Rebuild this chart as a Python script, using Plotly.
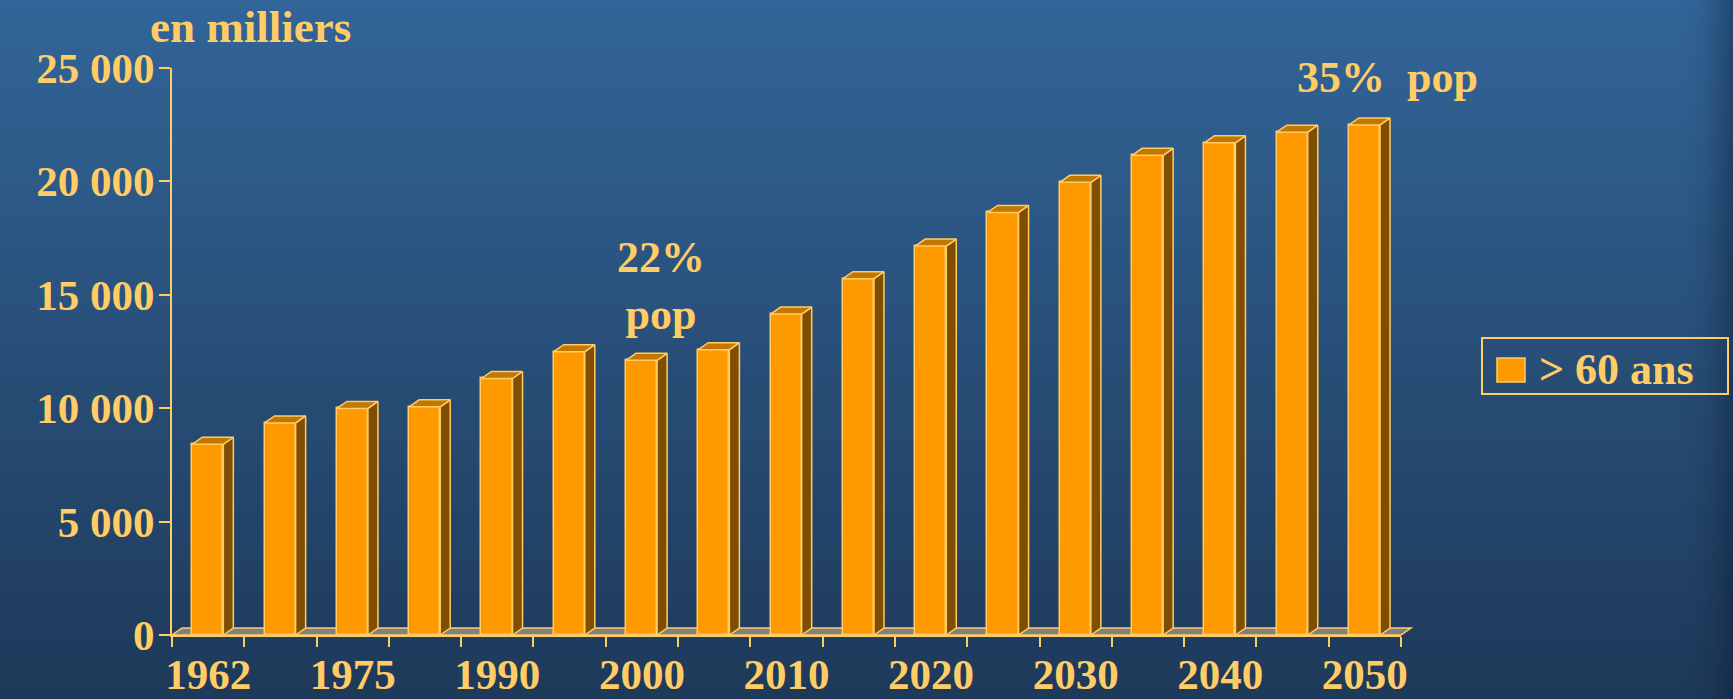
import plotly.graph_objects as go

# ---------------- data ----------------
years = ["1962", "1968", "1975", "1982", "1990", "1995", "2000", "2005", "2010",
         "2015", "2020", "2025", "2030", "2035", "2040", "2045", "2050"]
values = [8410, 9350, 9990, 10060, 11310, 12490, 12110, 12580, 14150,
          15710, 17150, 18630, 19960, 21150, 21700, 22170, 22490]
label_years = ["1962", "1975", "1990", "2000", "2010", "2020", "2030", "2040", "2050"]
y_tickvals = [0, 5000, 10000, 15000, 20000, 25000]
y_ticktext = ["0", "5 000", "10 000", "15 000", "20 000", "25 000"]
series_name = "> 60 ans"
unit_label = "en milliers"
note_2000 = "22%<br>pop"
note_2050 = "35%\u00a0 pop"

# ---------------- style / geometry ----------------
W, H = 1733, 699
ML, MR, MT, MB = 172, 332, 68, 64
PW, PH = W - ML - MR, H - MT - MB
YMAX = 25000
TXT = "#FFCC66"
FONT = "Liberation Serif"
FRONT, SIDE, TOP, FLOOR = "#FF9900", "#7F4E00", "#C27800", "#808080"

n = len(years)
idx = list(range(n))
xr0, xr1 = -0.5, n - 0.5
px_x = PW / (xr1 - xr0)
px_y = PH / YMAX
DX = 10 / px_x          # depth offset in x data units
DY = 7 / px_y           # depth offset in y data units
BW, BOFF = 0.43, -0.22  # front face width and offset


def xp(px):
    return (px - ML) / PW


def yp(py):
    return (H - MB - py) / PH


fig = go.Figure()

# front faces
fig.add_trace(go.Bar(
    x=idx, y=values, width=BW, offset=BOFF,
    marker=dict(color=FRONT, line=dict(color=TXT, width=1.5)),
    name=series_name, showlegend=False, hoverinfo="skip"))

# side faces and top faces of the 3D bars (derived from the values)
sx, sy, tx, ty = [], [], [], []
for i, v in zip(idx, values):
    xl, xr = i + BOFF, i + BOFF + BW
    sx += [xr, xr + DX, xr + DX, xr, xr, None]
    sy += [0, DY, v + DY, v, 0, None]
    tx += [xl, xl + DX, xr + DX, xr, xl, None]
    ty += [v, v + DY, v + DY, v, v, None]
fig.add_trace(go.Scatter(x=sx, y=sy, mode="lines", fill="toself", fillcolor=SIDE,
                         line=dict(color=TXT, width=1.5), showlegend=False, hoverinfo="skip"))
fig.add_trace(go.Scatter(x=tx, y=ty, mode="lines", fill="toself", fillcolor=TOP,
                         line=dict(color=TXT, width=1.5), showlegend=False, hoverinfo="skip"))

shapes = []
# background vertical gradient
top_c = (50, 101, 152)
bot_c = (30, 57, 89)
NB = 70
y_lo, y_hi = -MB / PH - 0.01, 1 + MT / PH + 0.01
for k in range(NB):
    t = k / (NB - 1)
    c = tuple(round(top_c[j] + (bot_c[j] - top_c[j]) * t) for j in range(3))
    y1 = y_hi - (y_hi - y_lo) * k / NB
    y0 = y_hi - (y_hi - y_lo) * (k + 1) / NB
    shapes.append(dict(type="rect", xref="paper", yref="paper", layer="below",
                       x0=-ML / PW - 0.01, x1=1 + MR / PW + 0.01, y0=y0 - 0.001, y1=y1 + 0.001,
                       fillcolor="rgb(%d,%d,%d)" % c, line=dict(width=0)))
# darker shade at the right edge
for pxs in range(1680, W, 2):
    a = 0.42 * ((pxs - 1680) / (W - 1680)) ** 2
    shapes.append(dict(type="rect", xref="paper", yref="paper", layer="below",
                       x0=xp(pxs), x1=xp(pxs + 2), y0=y_lo, y1=y_hi,
                       fillcolor="rgba(10,25,45,%.3f)" % a, line=dict(width=0)))
# floor strip
fx0, fx1 = xp(ML), xp(ML + PW)
fdx, fdy = DX * px_x / PW, DY * px_y / PH
shapes.append(dict(type="path", xref="paper", yref="paper", layer="below",
                   path="M %f,0 L %f,0 L %f,%f L %f,%f Z" % (fx0, fx1, fx1 + fdx, fdy, fx0 + fdx, fdy),
                   fillcolor=FLOOR, line=dict(color=TXT, width=1.5)))
# legend box
shapes.append(dict(type="rect", xref="paper", yref="paper",
                   x0=xp(1482), x1=xp(1728), y0=yp(394), y1=yp(338),
                   line=dict(color=TXT, width=2), fillcolor="rgba(0,0,0,0)"))
shapes.append(dict(type="rect", xref="paper", yref="paper",
                   x0=xp(1497), x1=xp(1525), y0=yp(382), y1=yp(358),
                   line=dict(color=TXT, width=1.5), fillcolor=FRONT))

annotations = [
    dict(text=unit_label, xref="paper", yref="paper", x=xp(250), y=yp(27),
         xanchor="center", yanchor="middle", showarrow=False,
         font=dict(family=FONT, size=45, color=TXT, weight="bold")),
    dict(text=note_2000, xref="x", yref="y", x=years.index("2000") + 0.26, y=15400,
         xanchor="center", yanchor="middle", showarrow=False,
         font=dict(family=FONT, size=44, color=TXT, weight="bold")),
    dict(text=note_2050, xref="x", yref="y", x=years.index("2050") + 0.31, y=24600,
         xanchor="center", yanchor="middle", showarrow=False,
         font=dict(family=FONT, size=44, color=TXT, weight="bold")),
    dict(text=series_name, xref="paper", yref="paper", x=xp(1537), y=yp(369),
         xanchor="left", yanchor="middle", showarrow=False,
         font=dict(family=FONT, size=44, color=TXT, weight="bold")),
]

fig.update_layout(
    width=W, height=H,
    margin=dict(l=ML, r=MR, t=MT, b=MB, pad=0, autoexpand=False),
    paper_bgcolor="rgb(40,80,120)",
    plot_bgcolor="rgba(0,0,0,0)",
    showlegend=False,
    shapes=shapes,
    annotations=annotations,
    bargap=0,
    xaxis=dict(
        range=[xr0, xr1], showgrid=False, zeroline=False, automargin=False,
        showline=True, linecolor=TXT, linewidth=2,
        tickmode="array", tickvals=idx[::2], ticktext=label_years,
        ticks="outside", ticklen=0, tickcolor=TXT,
        minor=dict(tickmode="array", tickvals=[i - 0.5 for i in range(n + 1)],
                   ticks="outside", ticklen=10, tickwidth=2, tickcolor=TXT),
        tickfont=dict(family=FONT, size=43, color=TXT, weight="bold"),
        ticklabelstandoff=0,
    ),
    yaxis=dict(
        range=[0, YMAX], showgrid=False, zeroline=False, automargin=False,
        showline=True, linecolor=TXT, linewidth=2,
        tickmode="array", tickvals=y_tickvals, ticktext=y_ticktext,
        ticks="outside", ticklen=11, tickwidth=2, tickcolor=TXT,
        tickfont=dict(family=FONT, size=43, color=TXT, weight="bold"),
        ticklabelstandoff=-4,
    ),
)

fig.write_html(
    "out.html",
    config={"displayModeBar": False},
    post_script="document.body.style.margin='0';document.body.style.background='rgb(40,80,120)';",
)
